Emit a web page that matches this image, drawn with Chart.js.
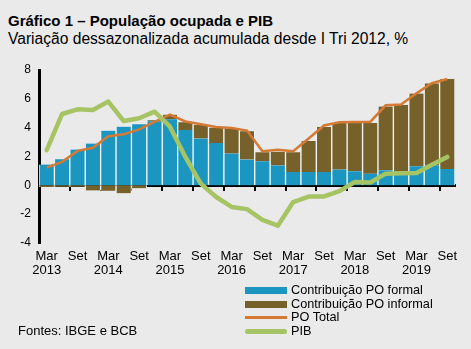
<!DOCTYPE html>
<html>
<head>
<meta charset="utf-8">
<script src="https://cdn.jsdelivr.net/npm/chart.js@4.4.1/dist/chart.umd.min.js"></script>
<style>
  html, body { margin: 0; padding: 0; }
  body {
    width: 471px; height: 349px; overflow: hidden; position: relative;
    background: #eaeaea;
    font-family: "Liberation Sans", Arial, sans-serif;
    color: #000;
  }
  #chart { position: absolute; left: 0; top: 0; }
  .title { position: absolute; left: 8px; top: 12px; font-size: 15px; font-weight: bold; }
  .subtitle { position: absolute; left: 8px; top: 30px; font-size: 15.6px; }
  .source { position: absolute; left: 18px; top: 323px; font-size: 13px; }
  #legend { position: absolute; left: 245px; top: 284px; font-size: 12.7px; }
  .item { height: 13.6px; line-height: 13.6px; display: flex; align-items: center; white-space: nowrap; }
  .swatch { width: 42px; margin-right: 4px; }
</style>
</head>
<body>
<div class="title">Gráfico 1 – População ocupada e PIB</div>
<div class="subtitle">Variação dessazonalizada acumulada desde I Tri 2012, %</div>
<canvas id="chart" width="471" height="349"></canvas>
<div id="legend"></div>
<div class="source">Fontes: IBGE e BCB</div>
<script>
// quarters Mar 2013 .. Set 2019, label every second quarter
let quarters = [
    'I 2013', 'II 2013', 'III 2013', 'IV 2013',
    'I 2014', 'II 2014', 'III 2014', 'IV 2014',
    'I 2015', 'II 2015', 'III 2015', 'IV 2015',
    'I 2016', 'II 2016', 'III 2016', 'IV 2016',
    'I 2017', 'II 2017', 'III 2017', 'IV 2017',
    'I 2018', 'II 2018', 'III 2018', 'IV 2018',
    'I 2019', 'II 2019', 'III 2019'
];

let tick_labels = [
    ['Mar', '2013'], '', 'Set', '', ['Mar', '2014'], '', 'Set', '',
    ['Mar', '2015'], '', 'Set', '', ['Mar', '2016'], '', 'Set', '',
    ['Mar', '2017'], '', 'Set', '', ['Mar', '2018'], '', 'Set', '',
    ['Mar', '2019'], '', 'Set'
];

let po_formal = [
    1.44, 1.81, 2.48, 2.90, 3.79, 4.07, 4.23, 4.45, 4.58, 3.83,
    3.25, 2.94, 2.20, 1.79, 1.67, 1.38, 0.92, 0.92, 0.93, 1.09,
    0.98, 0.81, 1.05, 0.98, 1.32, 1.39, 1.13
];

let po_informal = [
    -0.12, -0.10, -0.10, -0.35, -0.37, -0.55, -0.20, 0.06, 0.32, 0.55,
    0.93, 1.06, 1.75, 1.97, 0.63, 0.95, 1.38, 2.15, 3.11, 3.23,
    3.34, 3.51, 4.41, 4.59, 5.05, 5.68, 6.24
];

let po_total = [
    1.23, 1.63, 2.39, 2.60, 3.41, 3.55, 3.88, 4.41, 4.90, 4.43,
    4.23, 4.05, 3.97, 3.80, 2.37, 2.46, 2.36, 3.25, 4.15, 4.38,
    4.40, 4.40, 5.55, 5.60, 6.38, 7.08, 7.38
];

let pib = [
    2.44, 4.95, 5.27, 5.23, 5.81, 4.46, 4.65, 5.11, 4.07, 1.97,
    0.12, -0.81, -1.50, -1.65, -2.39, -2.80, -1.16, -0.78, -0.77, -0.40,
    0.23, 0.20, 0.81, 0.83, 0.85, 1.43, 1.97
];

let colors = {
    formal: '#1b96c0',
    informal: '#76612a',
    total: '#d47a35',
    pib: '#a6c464'
};

let config = {
    type: 'bar',
    data: {
        labels: quarters,
        datasets: [
            {
                label: 'Contribuição PO formal',
                data: po_formal,
                backgroundColor: colors.formal,
                borderColor: '#f4f8fa',
                borderWidth: {left: 1, right: 1, top: 0, bottom: 0},
                borderSkipped: false,
                barPercentage: 1,
                categoryPercentage: 1,
                stack: 'po',
                order: 2
            },
            {
                label: 'Contribuição PO informal',
                data: po_informal,
                backgroundColor: colors.informal,
                borderColor: '#f4f8fa',
                borderWidth: {left: 1, right: 1, top: 0, bottom: 0},
                borderSkipped: false,
                barPercentage: 1,
                categoryPercentage: 1,
                stack: 'po',
                order: 3
            },
            {
                type: 'line',
                label: 'PO Total',
                data: po_total,
                borderColor: colors.total,
                borderWidth: 2.5,
                pointRadius: 0,
                tension: 0,
                stack: 'total',
                order: 1
            },
            {
                type: 'line',
                label: 'PIB',
                data: pib,
                borderColor: colors.pib,
                borderWidth: 4.5,
                borderCapStyle: 'round',
                borderJoinStyle: 'round',
                pointRadius: 0,
                tension: 0,
                stack: 'pib',
                order: 0
            }
        ]
    },
    options: {
        responsive: false,
        animation: false,
        layout: {
            padding: {left: 0, right: 16, top: 70, bottom: 66}
        },
        plugins: {
            legend: {display: false},
            tooltip: {enabled: false}
        },
        scales: {
            x: {
                type: 'category',
                position: {y: 0},
                stacked: true,
                offset: true,
                ticks: {display: false},
                grid: {
                    offset: true,
                    drawOnChartArea: false,
                    drawTicks: true,
                    tickLength: 4,
                    lineWidth: 2,
                    color: '#000',
                    tickColor(ctx) {
                        return (ctx.index > 0 && ctx.index % 2 == 0 && ctx.index < quarters.length) ? '#000' : 'rgba(0,0,0,0)';
                    }
                },
                border: {display: true, color: '#000', width: 3}
            },
            x2: {
                type: 'category',
                position: 'bottom',
                offset: true,
                grid: {display: false, drawTicks: false},
                border: {display: false},
                ticks: {
                    autoSkip: false,
                    maxRotation: 0,
                    padding: 6,
                    color: '#000',
                    font: {family: '"Liberation Sans", Arial, sans-serif', size: 13, lineHeight: 1.1},
                    callback(value, index) {
                        return tick_labels[index];
                    }
                },
                afterFit(scale) {
                    scale.height = 40;
                }
            },
            y: {
                stacked: true,
                min: -4,
                max: 8,
                ticks: {
                    stepSize: 2,
                    padding: 8,
                    color: '#000',
                    font: {family: '"Liberation Sans", Arial, sans-serif', size: 12}
                },
                grid: {display: false, drawTicks: false},
                border: {display: true, color: '#000', width: 3},
                afterFit(scale) {
                    scale.width = 39;
                }
            }
        }
    }
};

const ctx = document.getElementById('chart');
window.chart = new Chart(ctx, config);

// legend built from the chart datasets, in drawing style
let legend = document.getElementById('legend');
chart.data.datasets.forEach(function (ds) {
    let row = document.createElement('div');
    row.className = 'item';
    let sw = document.createElement('div');
    sw.className = 'swatch';
    if (ds.type == 'line') {
        sw.style.height = (ds.label == 'PIB' ? 5 : 3) + 'px';
        sw.style.background = ds.borderColor;
        if (ds.label == 'PIB') sw.style.borderRadius = '3px';
    } else {
        sw.style.height = '7px';
        sw.style.background = ds.backgroundColor;
    }
    let txt = document.createElement('span');
    txt.textContent = ds.label;
    row.appendChild(sw);
    row.appendChild(txt);
    legend.appendChild(row);
});
</script>
</body>
</html>
